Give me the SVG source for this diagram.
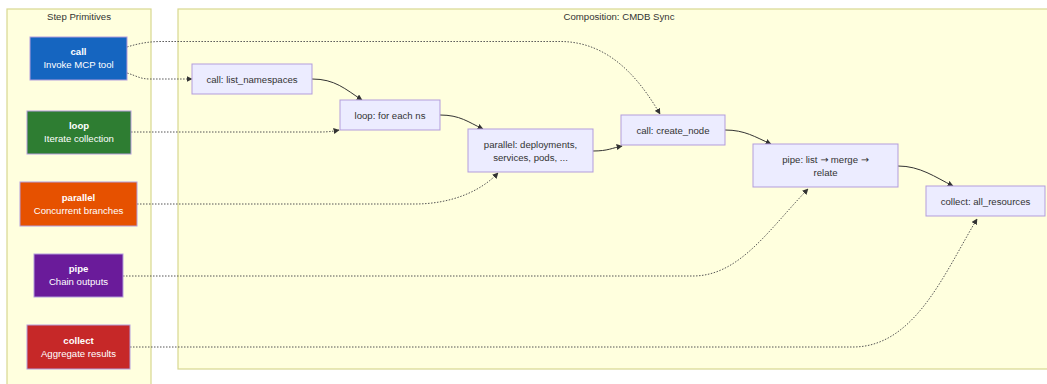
<svg xmlns="http://www.w3.org/2000/svg" width="1047" height="384" viewBox="0 0 1047 384">
<style>
.cl{fill:#ffffde;stroke:#d8d890;stroke-width:1.2}
.ct{font-family:"Liberation Sans",Arial,sans-serif;font-size:9.6px;fill:#333;text-anchor:middle}
.pn{stroke:#b39ddb;stroke-width:1}
.pt{font-family:"Liberation Sans",Arial,sans-serif;font-size:9.6px;fill:#fff;text-anchor:middle}
.pb{font-weight:bold}
.cn{fill:#ececff;stroke:#b39ddb;stroke-width:1}
.nt{font-family:"Liberation Sans",Arial,sans-serif;font-size:9.6px;fill:#333;text-anchor:middle}
.ar{font-family:"DejaVu Sans",sans-serif}
.e{fill:none;stroke:#333;stroke-width:1}
.d{fill:none;stroke:#555;stroke-width:1;stroke-dasharray:1.5 1.5}
</style>
<defs>
<marker id="ah" viewBox="0 0 10 10" refX="9" refY="5" markerWidth="6" markerHeight="6" markerUnits="userSpaceOnUse" orient="auto">
<path d="M0,0 L10,5 L0,10 z" fill="#333"/>
</marker>
</defs>
<g id="cluster-primitives">
<rect class="cl" x="7" y="9" width="144" height="390"/>
<text class="ct" x="79" y="19.5">Step Primitives</text>
</g>
<g id="cluster-composition">
<rect class="cl" x="178" y="9" width="885" height="360"/>
<text class="ct" x="619" y="19.5">Composition: CMDB Sync</text>
</g>
<g id="connectors">
<path class="d" d="M127,47 C140,43 150,41.5 162,41.5 L560,41.5 C610,41.5 640,80 660,114" marker-end="url(#ah)"/>
<path class="d" d="M127,73 C137,76 140,79 150,79 L192,79" marker-end="url(#ah)"/>
<path class="d" d="M131,132 L320,132 C330,132 334,131 339,130" marker-end="url(#ah)"/>
<path class="d" d="M137,204 L415,204 C450,204 480,192 498,173" marker-end="url(#ah)"/>
<path class="d" d="M123,276 L693,276 C740,276 770,228 808,189" marker-end="url(#ah)"/>
<path class="d" d="M130,347 L853,347 C915,347 945,272 977,219" marker-end="url(#ah)"/>
<path class="e" d="M312,79 C335,79 345,89 362,100" marker-end="url(#ah)"/>
<path class="e" d="M440,115 C460,115 468,122 483,129" marker-end="url(#ah)"/>
<path class="e" d="M593,151 C608,151 612,148 622,146" marker-end="url(#ah)"/>
<path class="e" d="M725,130 C745,130 755,137 771,144" marker-end="url(#ah)"/>
<path class="e" d="M898,166 C920,166 935,177 953,186" marker-end="url(#ah)"/>
</g>
<g id="p-call">
<rect class="pn" x="30" y="37" width="97" height="43" fill="#1565c0"/>
<text class="pt pb" x="78.5" y="55">call</text>
<text class="pt" x="78.5" y="68">Invoke MCP tool</text>
</g>
<g id="p-loop">
<rect class="pn" x="27" y="111" width="104" height="43" fill="#2e7d32"/>
<text class="pt pb" x="79" y="129">loop</text>
<text class="pt" x="79" y="142">Iterate collection</text>
</g>
<g id="p-parallel">
<rect class="pn" x="20" y="182" width="117" height="44" fill="#e65100"/>
<text class="pt pb" x="78.5" y="200.5">parallel</text>
<text class="pt" x="78.5" y="213.5">Concurrent branches</text>
</g>
<g id="p-pipe">
<rect class="pn" x="34" y="254" width="89" height="43" fill="#6a1b9a"/>
<text class="pt pb" x="78.5" y="272">pipe</text>
<text class="pt" x="78.5" y="285">Chain outputs</text>
</g>
<g id="p-collect">
<rect class="pn" x="27" y="325" width="103" height="44" fill="#c62828"/>
<text class="pt pb" x="78.5" y="343.5">collect</text>
<text class="pt" x="78.5" y="356.5">Aggregate results</text>
</g>
<g id="n-list">
<rect class="cn" x="192" y="64" width="120" height="30"/>
<text class="nt" x="252" y="82.5">call: list_namespaces</text>
</g>
<g id="n-loop">
<rect class="cn" x="340" y="100" width="100" height="30"/>
<text class="nt" x="390" y="118.5">loop: for each ns</text>
</g>
<g id="n-parallel">
<rect class="cn" x="468" y="129" width="125" height="43"/>
<text class="nt" x="530.5" y="147.5">parallel: deployments,</text>
<text class="nt" x="530.5" y="160.5">services, pods, ...</text>
</g>
<g id="n-create">
<rect class="cn" x="621" y="115" width="104" height="30"/>
<text class="nt" x="673" y="133.5">call: create_node</text>
</g>
<g id="n-pipe">
<rect class="cn" x="753" y="144" width="145" height="43"/>
<text class="nt" x="825.5" y="162.5">pipe: list <tspan class="ar">→</tspan> merge <tspan class="ar">→</tspan></text>
<text class="nt" x="825.5" y="175.5">relate</text>
</g>
<g id="n-collect">
<rect class="cn" x="926" y="186" width="119" height="30"/>
<text class="nt" x="985.5" y="204.5">collect: all_resources</text>
</g>
</svg>
